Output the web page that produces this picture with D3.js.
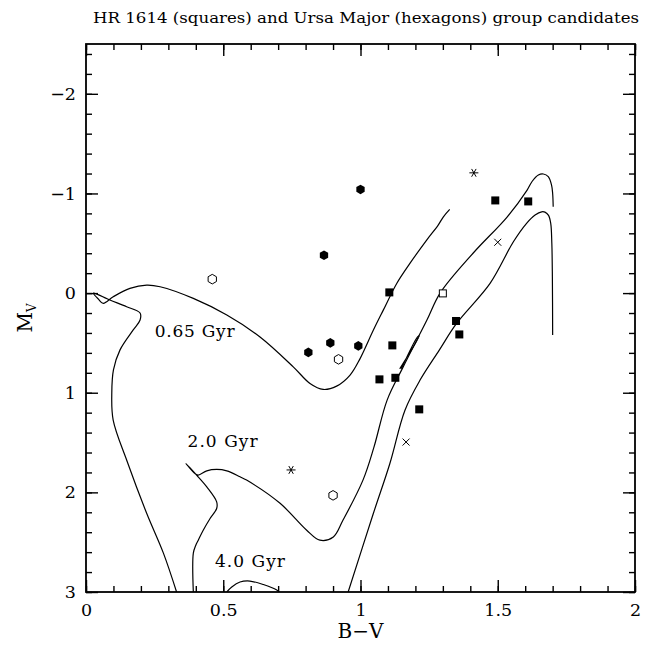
<!DOCTYPE html>
<html>
<head>
<meta charset="utf-8">
<script src="https://cdn.jsdelivr.net/npm/d3@7"></script>
<style>
  body { margin: 0; background: #fff; }
  text { fill: #000; }
</style>
</head>
<body>
<div class="chart"></div>
<script>
// colour-magnitude diagram, B-V vs M_V, with three isochrones

// isochrone tracks [B-V, Mv]
let iso065 = [[0.330,3.00],[0.282,2.61],[0.221,2.21],[0.150,1.69],[0.099,1.275],[0.094,1.00],
  [0.100,0.77],[0.124,0.57],[0.172,0.37],[0.197,0.27],[0.197,0.20],[0.148,0.137],[0.087,0.07],
  [0.027,0.00],[0.045,0.06],[0.063,0.103],[0.099,0.037],[0.160,-0.047],[0.221,-0.08],[0.270,-0.064],
  [0.391,0.053],[0.513,0.22],[0.634,0.44],[0.755,0.74],[0.816,0.907],[0.864,0.967],[0.913,0.934],
  [0.962,0.823],[0.998,0.66],[1.047,0.371],[1.083,0.171],[1.132,-0.097],[1.180,-0.298],
  [1.241,-0.532],[1.283,-0.683],[1.302,-0.766],[1.325,-0.84]];

let iso20 = [[0.391,3.00],[0.391,2.61],[0.400,2.53],[0.409,2.48],[0.427,2.38],[0.452,2.262],
  [0.476,2.162],[0.476,2.095],[0.440,1.945],[0.403,1.827],[0.364,1.71],[0.397,1.81],[0.409,1.827],
  [0.440,1.784],[0.476,1.77],[0.513,1.784],[0.561,1.844],[0.585,1.877],[0.707,2.11],[0.804,2.38],
  [0.852,2.48],[0.901,2.447],[0.936,2.28],[1.009,1.877],[1.049,1.546],[1.097,1.074],[1.155,0.743],
  [1.242,0.271],[1.290,0.0],[1.410,-0.40],[1.534,-0.763],[1.607,-1.034],[1.625,-1.12],
  [1.648,-1.185],[1.666,-1.195],[1.684,-1.168],[1.696,-1.084],[1.700,-1.0],[1.702,-0.867]];

// short clump loop beside the 2.0 Gyr giant branch
let clump20 = [[1.143,0.76],[1.214,0.43],[1.208,0.44],[1.149,0.76]];

let iso40a = [[0.513,3.00],[0.531,2.95],[0.561,2.90],[0.597,2.89],[0.646,2.925],[0.695,2.98],[0.704,3.00]];
let iso40b = [[0.955,3.00],[1.047,2.21],[1.107,1.71],[1.162,1.175],[1.217,0.873],[1.287,0.572],
  [1.350,0.305],[1.472,-0.097],[1.557,-0.515],[1.605,-0.70],[1.636,-0.783],[1.660,-0.816],
  [1.672,-0.813],[1.685,-0.78],[1.693,-0.70],[1.697,-0.50],[1.699,-0.164],[1.700,0.42]];

let isoLabels = [["0.65 Gyr",0.25,0.44,80],["2.0 Gyr",0.37,1.54,70],["4.0 Gyr",0.47,2.75,70]];

// stars
let hexFilled = [[1.00,-1.04],[0.867,-0.38],[0.81,0.595],[0.89,0.50],[0.992,0.53]];
let hexOpen = [[0.46,-0.14],[0.92,0.665],[0.90,2.03]];
let sqFilled = [[1.491,-0.93],[1.611,-0.92],[1.105,-0.007],[1.348,0.28],[1.36,0.415],
  [1.116,0.525],[1.069,0.866],[1.127,0.85],[1.214,1.167]];
let sqOpen = [[1.30,0.003]];
let stars = [[1.413,-1.207],[0.747,1.775]];
let crosses = [[1.50,-0.51],[1.166,1.495]];

let xMajor = [0, 0.5, 1, 1.5, 2];
let xMinor = d3.range(0, 2.001, 0.1);
let yMajor = [-2, -1, 0, 1, 2, 3];
let yMinor = d3.range(-2.4, 3.001, 0.2);

let svgWidth = 649;
let svgHeight = 645;
let margin = { top: 44, right: 14, bottom: 53, left: 86 };
let width = svgWidth - margin.left - margin.right;
let height = svgHeight - margin.top - margin.bottom;

let svg = d3.select(".chart").append("svg")
  .attr("width", svgWidth)
  .attr("height", svgHeight);

let chart = svg.append("g")
  .attr("transform", `translate(${margin.left}, ${margin.top})`);

let xScale = d3.scaleLinear().domain([0, 2]).range([0, width]);
let yScale = d3.scaleLinear().domain([-2.5, 3]).range([0, height]);

let serif = "'DejaVu Serif', serif";

// ticks on all four sides, pointing inward
function ticks(axis, values, size, fmt) {
  return axis.tickValues(values).tickSize(size).tickPadding(7).tickFormat(fmt);
}
let none = () => "";
let fmtX = d => d === 0 ? "0" : d3.format("~g")(d);
let fmtY = d => d < 0 ? "\u2212" + Math.abs(d) : String(d);

let axes = [
  chart.append("g").attr("transform", `translate(0,${height})`).call(ticks(d3.axisBottom(xScale), xMinor, -6, none)),
  chart.append("g").attr("transform", `translate(0,${height})`).call(ticks(d3.axisBottom(xScale), xMajor, -12, fmtX)),
  chart.append("g").call(ticks(d3.axisTop(xScale), xMinor, -6, none)),
  chart.append("g").call(ticks(d3.axisTop(xScale), xMajor, -12, none)),
  chart.append("g").call(ticks(d3.axisLeft(yScale), yMinor, -6, none)),
  chart.append("g").call(ticks(d3.axisLeft(yScale), yMajor, -12, fmtY)),
  chart.append("g").attr("transform", `translate(${width},0)`).call(ticks(d3.axisRight(yScale), yMinor, -6, none)),
  chart.append("g").attr("transform", `translate(${width},0)`).call(ticks(d3.axisRight(yScale), yMajor, -12, none))
];
axes.forEach(g => {
  g.select(".domain").remove();
  g.selectAll(".tick line").attr("stroke", "#000").attr("stroke-width", 1.4);
  g.selectAll(".tick text").attr("font-family", serif).attr("font-size", 17.5).attr("fill", "#000");
});
axes[1].selectAll(".tick text").attr("dy", "0.95em");
axes[5].selectAll(".tick text").attr("dx", "-3");

chart.append("rect")
  .attr("width", width).attr("height", height)
  .attr("fill", "none").attr("stroke", "#000").attr("stroke-width", 1.8);

// isochrones
chart.append("clipPath").attr("id", "clip")
  .append("rect").attr("width", width).attr("height", height);

let line = d3.line()
  .x(d => xScale(d[0]))
  .y(d => yScale(d[1]))
  .curve(d3.curveCatmullRom.alpha(0.5));

chart.append("g").attr("clip-path", "url(#clip)")
  .selectAll("path")
  .data([iso065, iso20, clump20, iso40a, iso40b])
  .enter()
  .append("path")
  .attr("d", line)
  .attr("fill", "none")
  .attr("stroke", "#000")
  .attr("stroke-width", 1.2);

chart.selectAll(".isoLabel")
  .data(isoLabels)
  .enter()
  .append("text")
  .attr("class", "isoLabel")
  .attr("x", d => xScale(d[1]))
  .attr("y", d => yScale(d[2]))
  .attr("font-family", serif)
  .attr("font-size", 17)
  .attr("textLength", d => d[3])
  .attr("lengthAdjust", "spacing")
  .text(d => d[0]);

// markers
function hexPath(r) {
  let pts = d3.range(6).map(i => {
    let a = Math.PI / 6 + i * Math.PI / 3;
    return [r * Math.cos(a), r * Math.sin(a)];
  });
  return "M" + pts.join("L") + "Z";
}

chart.selectAll(".hexF").data(hexFilled).enter().append("path")
  .attr("transform", d => `translate(${xScale(d[0])},${yScale(d[1])})`)
  .attr("d", hexPath(4.8)).attr("fill", "#000");

chart.selectAll(".hexO").data(hexOpen).enter().append("path")
  .attr("transform", d => `translate(${xScale(d[0])},${yScale(d[1])})`)
  .attr("d", hexPath(4.8)).attr("fill", "#fff").attr("stroke", "#000").attr("stroke-width", 1);

chart.selectAll(".sqF").data(sqFilled).enter().append("rect")
  .attr("x", d => xScale(d[0]) - 4).attr("y", d => yScale(d[1]) - 4)
  .attr("width", 8).attr("height", 8).attr("fill", "#000");

chart.selectAll(".sqO").data(sqOpen).enter().append("rect")
  .attr("x", d => xScale(d[0]) - 3.5).attr("y", d => yScale(d[1]) - 3.5)
  .attr("width", 7).attr("height", 7).attr("fill", "#fff").attr("stroke", "#000").attr("stroke-width", 1);

chart.selectAll(".star").data(stars).enter().append("path")
  .attr("transform", d => `translate(${xScale(d[0])},${yScale(d[1])})`)
  .attr("d", [0, 60, 120].map(a => {
    let r = 4.5, c = Math.cos(a * Math.PI / 180) * r, s = Math.sin(a * Math.PI / 180) * r;
    return `M${-c},${-s}L${c},${s}`;
  }).join(""))
  .attr("stroke", "#000").attr("stroke-width", 1);

chart.selectAll(".cross").data(crosses).enter().append("path")
  .attr("transform", d => `translate(${xScale(d[0])},${yScale(d[1])})`)
  .attr("d", "M-3.5,-3.5L3.5,3.5M-3.5,3.5L3.5,-3.5")
  .attr("stroke", "#000").attr("stroke-width", 1);

// titles
svg.append("text")
  .attr("x", 93).attr("y", 23)
  .attr("font-family", serif).attr("font-size", 14)
  .attr("textLength", 546).attr("lengthAdjust", "spacingAndGlyphs")
  .text("HR 1614 (squares) and Ursa Major (hexagons) group candidates");

svg.append("text")
  .attr("x", margin.left + width / 2).attr("y", 638)
  .attr("text-anchor", "middle")
  .attr("font-family", serif).attr("font-size", 20)
  .text("B\u2212V");

let yLab = svg.append("text")
  .attr("transform", "translate(32,318) rotate(-90)")
  .attr("text-anchor", "middle")
  .attr("font-family", serif).attr("font-size", 20);
yLab.append("tspan").text("M");
yLab.append("tspan").attr("font-size", 12).attr("dy", 4).text("V");
</script>
</body>
</html>
